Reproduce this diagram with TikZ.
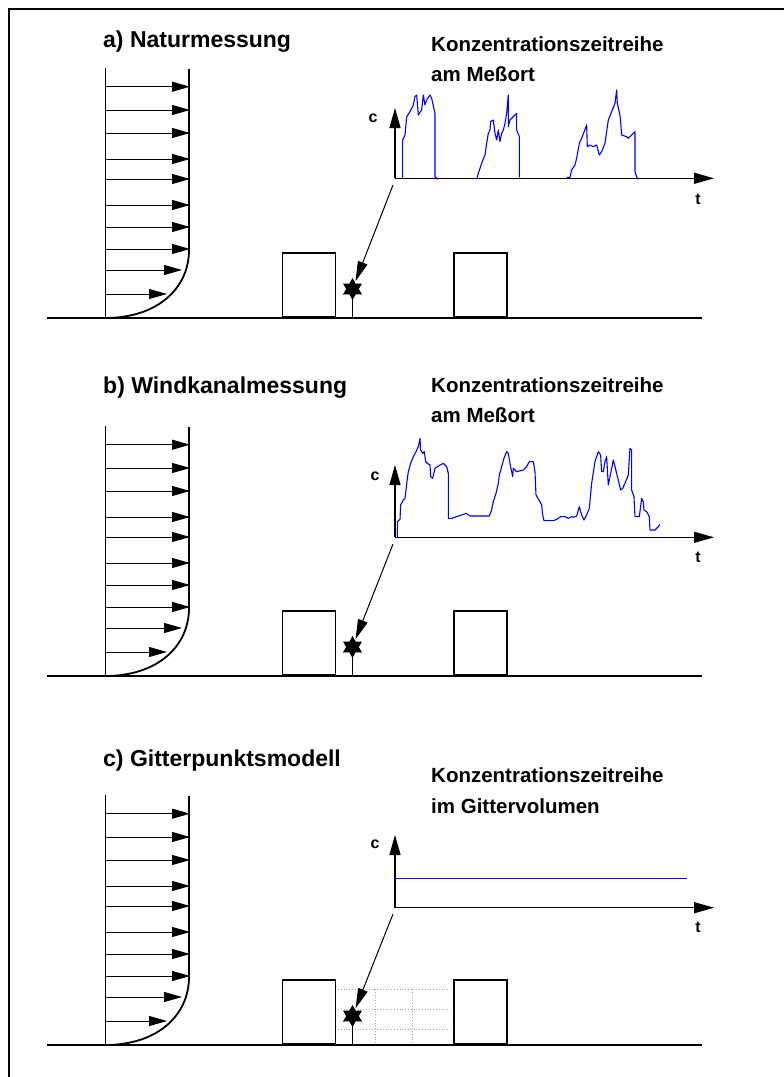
\documentclass[tikz,border=0pt]{standalone}
\usepackage{fontspec}
\setmainfont{Liberation Sans}
\usetikzlibrary{arrows.meta,shapes.geometric}
\newcommand\windpanel[2]{%
\begin{scope}[shift={(0,#2)}]
  % wind profile
  \coordinate (#1top) at (105,68);
  \coordinate (#1base) at (105,318);
  \draw[line width=1pt] (#1top) -- (#1base);
  \foreach \yy/\xx [count=\i] in {86.7/190,110/190,133/190,159/190,179/190,205/190,227/190,249/190,270/182,294/167} {
    \coordinate (#1w\i) at (105,\yy);
    \coordinate (#1e\i) at (\xx,\yy);
    \draw[windarrow] (#1w\i) -- (#1e\i);
  }
  \coordinate (#1ptop) at (189,69);
  \coordinate (#1pk) at (189,250);
  \draw[line width=1.8pt] (#1ptop) -- (#1pk) .. controls (189,288) and (158,318) .. (#1base);
  % ground
  \coordinate (#1g0) at (47,318);
  \coordinate (#1g1) at (702,318);
  \draw[line width=1.2pt] (#1g0) -- (#1g1);
\end{scope}}
\newcommand\houses[2]{%
\begin{scope}[shift={(0,#2)}]
  \node[building,anchor=south west] (#1B1) at (281.5,317.5) {};
  \node[building,anchor=south west] (#1B2) at (453,317.5) {};
  \coordinate (#1Sg) at (352.5,318);
  \coordinate (#1Sc) at (352.5,289);
  \draw[line width=1pt] (#1Sc) -- (#1Sg);
  \node[sensorstar] (#1S) at (#1Sc) {};
\end{scope}}
\begin{document}
\begin{tikzpicture}[x=1pt,y=-1pt,
  windarrow/.style={line width=0.9pt,-{Triangle[length=18pt,width=10pt]}},
  axisarrow/.style={line width=1.3pt,-{Triangle[length=20pt,width=11pt]}},
  pointer/.style={line width=1pt,-{Triangle[length=20pt,width=10pt]}},
  building/.style={draw,line width=1.8pt,fill=white,minimum width=53pt,minimum height=64pt,inner sep=0pt},
  sensorstar/.style={star,star points=6,star point ratio=1.75,fill=black,minimum size=22pt,inner sep=0pt},
  titletext/.style={anchor=base west,inner sep=0pt,font=\fontsize{23}{27}\selectfont\bfseries},
  labeltext/.style={anchor=base west,inner sep=0pt,font=\fontsize{20.5}{24}\selectfont\bfseries},
  axislabel/.style={inner sep=0pt,font=\fontsize{16}{18}\selectfont\bfseries},
  series/.style={blue,line width=1.1pt,line join=round},
  gridline/.style={gray!70,dotted,line width=0.8pt}
]
\useasboundingbox (0,0) rectangle (784,1077);
\fill[white] (0,0) rectangle (784,1077);
% frame
\coordinate (fr0) at (9,1077);
\coordinate (fr1) at (9,9);
\coordinate (fr2) at (784,9);
\draw[line width=2pt] (fr0) -- (fr1) -- (fr2);

% panels
\windpanel{a}{0}
\windpanel{b}{358}
\windpanel{c}{727}

% grid of panel c
\begin{scope}[shift={(0,727)}]
  \foreach \yy [count=\i] in {262,282,302} {
    \coordinate (gh\i a) at (338,\yy);
    \coordinate (gh\i b) at (450,\yy);
    \draw[gridline] (gh\i a) -- (gh\i b);
  }
  \foreach \xx [count=\i] in {375,412.7} {
    \coordinate (gv\i a) at (\xx,262);
    \coordinate (gv\i b) at (\xx,318);
    \draw[gridline] (gv\i a) -- (gv\i b);
  }
\end{scope}

\houses{a}{0}
\houses{b}{358}
\houses{c}{727}

% titles
\node[titletext] (ta) at (103,47) {a) Naturmessung};
\node[titletext] (tb) at (103,393) {b) Windkanalmessung};
\node[titletext] (tc) at (103,766) {c) Gitterpunktsmodell};
\node[labeltext] (la1) at (431,51) {Konzentrationszeitreihe};
\node[labeltext] (la2) at (431,81) {am Meßort};
\node[labeltext] (lb1) at (431,392) {Konzentrationszeitreihe};
\node[labeltext] (lb2) at (431,422) {am Meßort};
\node[labeltext] (lc1) at (431,782) {Konzentrationszeitreihe};
\node[labeltext] (lc2) at (431,813) {im Gittervolumen};

% chart axes
\coordinate (ao) at (395,178.3);
\coordinate (ay) at (395,108);
\coordinate (ax) at (714,178.3);
\coordinate (bo) at (395,537.3);
\coordinate (by) at (395,465);
\coordinate (bx) at (714,537.3);
\coordinate (co) at (395,907.7);
\coordinate (cy) at (395,835);
\coordinate (cx) at (714,907.7);
\foreach \p in {a,b,c} {
  \draw[axisarrow] (\p o) -- (\p y);
  \draw[axisarrow] (\p o) -- (\p x);
}
\node[axislabel] (ca) at (373,118) {c};
\node[axislabel] (ta2) at (698,199) {t};
\node[axislabel] (cb) at (375,476) {c};
\node[axislabel] (tb2) at (698,557) {t};
\node[axislabel] (cc) at (375,844) {c};
\node[axislabel] (tc2) at (698,927) {t};

% pointers from chart to sensor
\coordinate (pa) at (393,185);
\coordinate (pb) at (393,544);
\coordinate (pc) at (393,914);
\draw[pointer,shorten >=1pt] (pa) -- (aS);
\draw[pointer,shorten >=1pt] (pb) -- (bS);
\draw[pointer,shorten >=1pt] (pc) -- (cS);

% time series a
\begin{scope}[shift={(380,80)},x=0.3333pt,y=-0.3333pt]
\draw[series] (68,295) -- (68,180) -- (75,165) -- (80,110) -- (90,95) -- (100,75) -- (105,50) -- (110,45) -- (115,105) -- (125,90) -- (130,45) -- (135,75) -- (140,60) -- (150,45) -- (155,55) -- (165,100) -- (165,290) -- (175,298);
\draw[series] (290,298) -- (295,280) -- (300,265) -- (305,250) -- (315,225) -- (320,190) -- (325,160) -- (330,150) -- (332,125) -- (340,120) -- (345,160) -- (350,180) -- (355,150) -- (360,185) -- (365,160) -- (370,150) -- (375,130) -- (380,100) -- (385,45) -- (385,140) -- (390,120) -- (400,110) -- (410,100) -- (410,150) -- (418,170) -- (418,292);
\draw[series] (560,292) -- (570,292) -- (575,270) -- (585,255) -- (590,235) -- (598,190) -- (605,175) -- (620,135) -- (622,200) -- (630,195) -- (640,200) -- (650,195) -- (658,225) -- (665,215) -- (675,190) -- (685,120) -- (695,95) -- (705,70) -- (710,30) -- (712,70) -- (720,105) -- (722,125) -- (725,165) -- (740,170) -- (745,175) -- (765,155) -- (765,275) -- (770,290) -- (775,298);
\end{scope}

% time series b
\begin{scope}[shift={(380,430)},x=0.3333pt,y=-0.3333pt]
\draw[series] (52,322) -- (52,275) -- (60,268) -- (62,225) -- (70,210) -- (75,205) -- (78,180) -- (82,145) -- (85,125) -- (92,100) -- (100,80) -- (108,65) -- (115,50) -- (120,25) -- (122,60) -- (128,70) -- (133,65) -- (137,95) -- (142,100) -- (150,105) -- (152,140) -- (158,145) -- (165,115) -- (175,108) -- (190,100) -- (200,110) -- (205,130) -- (205,265) -- (215,265) -- (230,260) -- (245,255) -- (258,250) -- (270,258) -- (300,258) -- (328,258) -- (335,240) -- (340,215) -- (348,190) -- (355,160) -- (358,135) -- (365,110) -- (372,85) -- (380,65) -- (385,70) -- (390,100) -- (398,140) -- (400,115) -- (410,125) -- (430,120) -- (440,110) -- (448,95) -- (460,95) -- (465,125) -- (468,195) -- (480,215) -- (485,225) -- (488,255) -- (492,272) -- (520,272) -- (530,268) -- (542,260) -- (555,260) -- (565,265) -- (575,260) -- (580,262) -- (590,258) -- (598,230) -- (605,255) -- (612,270) -- (620,255) -- (628,235) -- (635,160) -- (645,95) -- (655,65) -- (662,75) -- (665,125) -- (670,125) -- (675,95) -- (680,80) -- (685,165) -- (690,140) -- (700,90) -- (710,130) -- (722,180) -- (728,175) -- (735,160) -- (745,135) -- (750,55) -- (755,60) -- (755,180) -- (762,200) -- (765,260) -- (778,260) -- (785,205) -- (790,215) -- (792,240) -- (800,245) -- (808,260) -- (810,300) -- (825,300) -- (835,290) -- (840,283);
\end{scope}

% time series c
\coordinate (cs0) at (395,878.3);
\coordinate (cs1) at (687,878.3);
\draw[series] (cs0) -- (cs1);
\end{tikzpicture}
\end{document}
